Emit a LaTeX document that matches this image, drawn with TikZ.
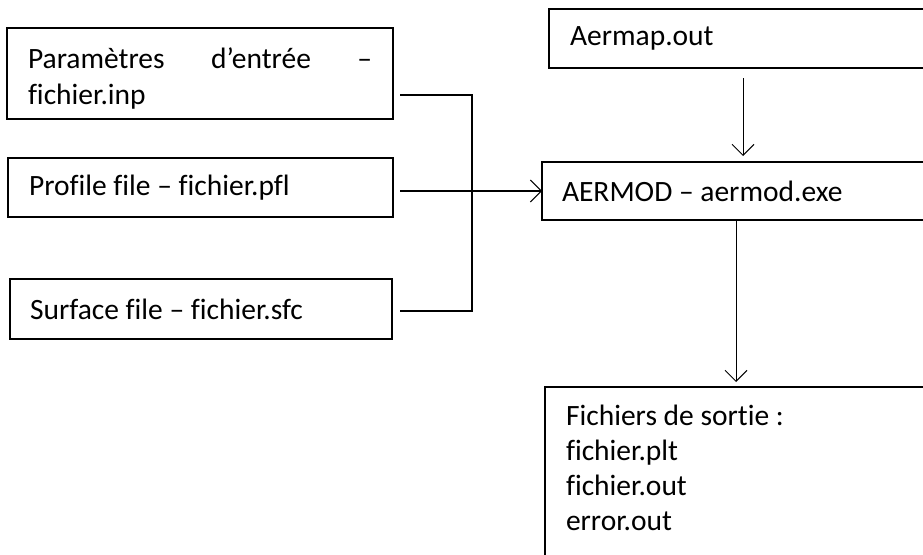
\documentclass[tikz,border=0pt]{standalone}
\usepackage{fontspec}
\setmainfont[Ligatures=NoCommon]{Carlito}
\usetikzlibrary{arrows.meta}
\begin{document}
\begin{tikzpicture}[x=1pt,y=-1pt,
  box/.style={draw, line width=1.6pt, outer sep=0pt, anchor=north west,
    inner xsep=21pt, inner ysep=0pt, align=left,
    font=\fontsize{29.5}{35}\selectfont,
    execute at begin node={\spaceskip=0pt\xspaceskip=0pt\relax}},
  link/.style={line width=1.3pt},
  tip/.style={-{Straight Barb[length=11pt,width=22pt,line width=1pt]}},
  arr/.style={line width=1pt, tip}]
\clip (0,0) rectangle (923,554);
\fill[white] (0,0) rectangle (923,554);

\node[box, text width=344pt, minimum height=91pt] (b1) at (7,28)
  {\hbox to 344pt{\rule{0pt}{30pt}Paramètres\hfill d’entrée\hfill –}\\[1pt]fichier.inp};
\node[box, text width=343pt, minimum height=59pt] (b2) at (8,158)
  {Profile file – fichier.pfl};
\node[box, text width=342pt, inner xsep=20pt, minimum height=60pt] (b3) at (10,279)
  {Surface file – fichier.sfc};

\node[box, text width=400pt, minimum height=59pt] (aermap) at (549,9)
  {Aermap.out};
\node[box, text width=400pt, inner xsep=20pt, minimum height=58pt] (aermod) at (542,162)
  {AERMOD – aermod.exe};
\node[box, text width=400pt, inner ysep=18pt, text depth=180pt] (out) at (545,387)
  {Fichiers de sortie :\\fichier.plt\\fichier.out\\error.out};

% bracket joining the three input boxes
\coordinate (s1) at (400,95);
\coordinate (s2) at (400,191);
\coordinate (s3) at (400,311);
\coordinate (k3) at (472,311);
\draw[link] (s1) -| (k3) -- (s3);
\draw[link, tip] (s2) -- (aermod.west);

% Aermap -> AERMOD
\coordinate (a1) at (743,78);
\coordinate (a2) at (743,156);
\draw[arr] (a1) -- (a2);

% AERMOD -> output
\coordinate (d1) at (736,220);
\coordinate (d2) at (736,382);
\draw[arr] (d1) -- (d2);
\end{tikzpicture}
\end{document}
